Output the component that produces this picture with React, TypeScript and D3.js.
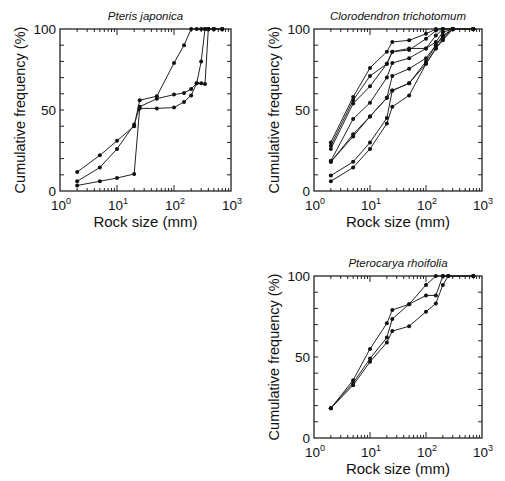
import * as d3 from 'd3';

// rock sizes (mm) and cumulative frequencies (%)
const pjSizes = [2, 5, 10, 20, 25, 50, 100, 150, 200, 250, 300, 350, 400, 500, 700];
const pjSeries = [
  [11.7, 22, 31, 40, 56, 58.5, 79, 90, 100, 100, 100, 100, 100, 100, 100],
  [6, 14.5, 26, 41, 52, 57, 59.5, 60.5, 63, 66.5, 80, 100, 100, 100, 100],
  [3.4, 6, 8, 10.5, 51, 51, 51.5, 55, 59, 66.5, 66.5, 66, 100, 100, 100],
];

const ctSizes = [2, 5, 10, 20, 25, 50, 100, 150, 200, 300, 700];
const ctSeries = [
  [30, 58, 76, 86, 92, 93, 97, 100, 100, 100, 100],
  [28, 56, 71, 78.5, 86, 87, 94, 99, 100, 100, 100],
  [26, 54, 64.6, 78.5, 86, 88, 88, 96, 100, 100, 100],
  [18.6, 44.5, 54.5, 70, 79, 82, 88, 92, 98, 100, 100],
  [18, 35, 46, 57.5, 71, 75.5, 82, 90, 96, 100, 100],
  [18, 33.7, 46, 57.5, 62, 66.5, 80, 90, 95, 100, 100],
  [9.5, 18, 30, 45, 62, 66.5, 78.5, 88, 93, 100, 100],
  [6, 14.5, 26, 41.6, 52, 59, 78.5, 88, 94, 100, 100],
];

const prSizes = [2, 5, 10, 20, 25, 50, 100, 150, 200, 250, 700];
const prSeries = [
  [18.4, 35.7, 55, 70.8, 79, 82.6, 88, 88, 100, 100, 100],
  [18.4, 34, 49, 62, 73.5, 82.6, 94.5, 100, 100, 100, 100],
  [18.4, 32.6, 47, 59, 66, 69, 78, 83, 94.5, 100, 100],
];

const yTickLabels = [0, 50, 100];
const xTickLabels = [1, 10, 100, 1000];

const font = '"Liberation Sans", Arial, Helvetica, sans-serif';

function Panel({ title, left, top, width = 168, height = 162, sizes, series }) {
  const x = d3.scaleLog([1, 1000], [0, width]);
  const y = d3.scaleLinear([0, 100], [height, 0]);
  const line = d3.line<number>()
    .x((_, i) => x(sizes[i]))
    .y(d => y(d));

  const xTicks = x.ticks().filter(v => v > 1 && v < 1000);
  const yTicks = y.ticks(10).filter(v => v > 0 && v < 100);
  const isMajor = (v: number) => Math.abs(Math.log10(v) - Math.round(Math.log10(v))) < 1e-9;

  return (
    <g transform={`translate(${left},${top})`} fontFamily={font} fill="#111">
      <text x={width / 2} y={-9} textAnchor="middle" fontSize={11.5} fontStyle="italic">{title}</text>

      {xTicks.map(v => {
        const len = isMajor(v) ? 6 : 3;
        return (
          <g key={v} stroke="#222" strokeWidth={1}>
            <line x1={x(v)} x2={x(v)} y1={height} y2={height - len} />
            <line x1={x(v)} x2={x(v)} y1={0} y2={len} />
          </g>
        );
      })}
      {yTicks.map(v => (
        <g key={v} stroke="#222" strokeWidth={1}>
          <line x1={0} x2={4} y1={y(v)} y2={y(v)} />
          <line x1={width} x2={width - 4} y1={y(v)} y2={y(v)} />
        </g>
      ))}
      <rect x={0} y={0} width={width} height={height} fill="none" stroke="#222" strokeWidth={1.3} />

      {yTickLabels.map(v => (
        <text key={v} x={-4} y={y(v)} dy="0.36em" textAnchor="end" fontSize={13.5}>{v}</text>
      ))}
      {xTickLabels.map(v => (
        <text key={v} x={x(v) + 1} y={height + 19} textAnchor="middle" fontSize={13.5}>
          10<tspan fontSize={9} dy={-6}>{Math.round(Math.log10(v))}</tspan>
        </text>
      ))}

      <text x={width / 2} y={height + 36} textAnchor="middle" fontSize={15}>Rock size (mm)</text>
      <text transform={`translate(-35,${height / 2}) rotate(-90)`} textAnchor="middle" fontSize={14.5}>
        Cumulative frequency (%)
      </text>

      {series.map((s, i) => (
        <g key={i}>
          <path d={line(s) ?? ''} fill="none" stroke="#222" strokeWidth={1} />
          {s.map((d, j) => (
            <circle key={j} cx={x(sizes[j])} cy={y(d)} r={2} fill="#111" />
          ))}
        </g>
      ))}
    </g>
  );
}

export default function App() {
  return (
    <svg width={505} height={481} style={{ position: 'absolute', left: 0, top: 0, background: '#fff' }}>
      <Panel title="Pteris japonica" left={60} top={29} width={171} sizes={pjSizes} series={pjSeries} />
      <Panel title="Clorodendron trichotomum" left={314} top={29} sizes={ctSizes} series={ctSeries} />
      <Panel title="Pterocarya rhoifolia" left={314} top={276} sizes={prSizes} series={prSeries} />
    </svg>
  );
}
